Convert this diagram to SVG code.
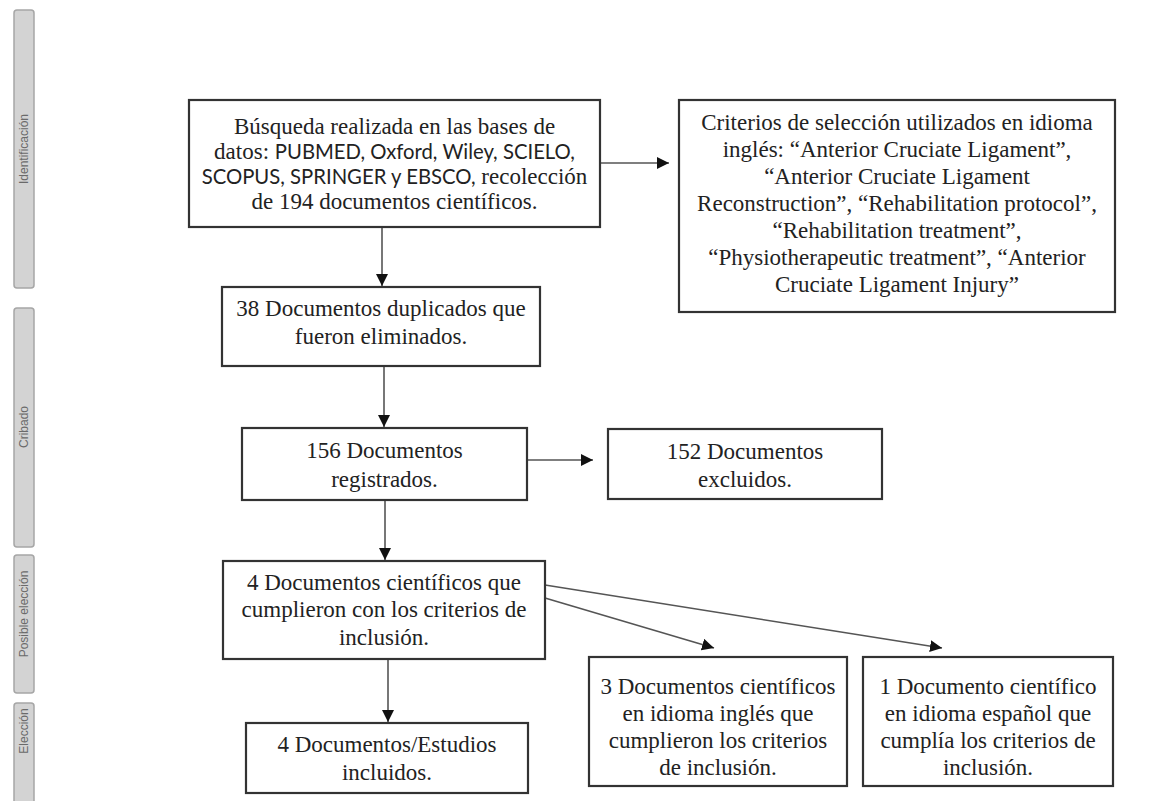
<svg xmlns="http://www.w3.org/2000/svg" width="1153" height="801" viewBox="0 0 1153 801">
<style>
.bar{fill:#d3d3d3;stroke:#a6a6a6;stroke-width:1.5}
.bt{font-family:"Liberation Sans",Arial,sans-serif;font-size:12px;fill:#6a6a6a;text-anchor:middle}
.box{fill:#fff;stroke:#333;stroke-width:2.2}
.t{font-family:"Liberation Serif","Times New Roman",serif;font-size:23px;fill:#222;text-anchor:middle}
.s{font-family:Lato,"Liberation Sans",sans-serif;font-size:20.3px}
.c{fill:none;stroke:#555;stroke-width:1.6}
</style>
<defs>
<marker id="ah" markerUnits="userSpaceOnUse" markerWidth="14" markerHeight="12" refX="12" refY="6" orient="auto">
<path d="M0,0 L12,6 L0,12 Z" fill="#111"/>
</marker>
</defs>
<rect width="1153" height="801" fill="#fff"/>
<g id="bars">
<rect class="bar" x="14" y="10" width="20" height="278" rx="3"/>
<text class="bt" transform="translate(28,149) rotate(-90)">Identificación</text>
<rect class="bar" x="14" y="308" width="20" height="239" rx="3"/>
<text class="bt" transform="translate(28,427) rotate(-90)">Cribado</text>
<rect class="bar" x="14" y="555" width="20" height="138" rx="3"/>
<text class="bt" transform="translate(28,614) rotate(-90)">Posible elección</text>
<rect class="bar" x="14" y="703" width="20" height="110" rx="3"/>
<text class="bt" transform="translate(28,731) rotate(-90)">Elección</text>
</g>
<g id="connectors">
<line class="c" x1="382" y1="227" x2="382" y2="286" marker-end="url(#ah)"/>
<line class="c" x1="601" y1="163" x2="669" y2="163" marker-end="url(#ah)"/>
<line class="c" x1="384" y1="366" x2="384" y2="427" marker-end="url(#ah)"/>
<line class="c" x1="527" y1="460" x2="593" y2="460" marker-end="url(#ah)"/>
<line class="c" x1="385" y1="500" x2="385" y2="560" marker-end="url(#ah)"/>
<line class="c" x1="545" y1="598" x2="714" y2="648" marker-end="url(#ah)"/>
<line class="c" x1="545" y1="585" x2="942" y2="648" marker-end="url(#ah)"/>
<line class="c" x1="388" y1="659" x2="388" y2="722" marker-end="url(#ah)"/>
</g>
<g id="n1">
<rect class="box" x="189" y="100" width="411" height="127"/>
<text class="t" x="394.5" y="134">Búsqueda realizada en las bases de</text>
<text class="t" x="394.5" y="159">datos: <tspan class="s">PUBMED, Oxford, Wiley, SCIELO,</tspan></text>
<text class="t" x="394.5" y="184"><tspan class="s">SCOPUS, SPRINGER y EBSCO,</tspan> recolección</text>
<text class="t" x="394.5" y="209">de 194 documentos científicos.</text>
</g>
<g id="n2">
<rect class="box" x="679" y="100" width="436" height="212"/>
<text class="t" x="897" y="130">Criterios de selección utilizados en idioma</text>
<text class="t" x="897" y="157">inglés: “Anterior Cruciate Ligament”,</text>
<text class="t" x="897" y="184">“Anterior Cruciate Ligament</text>
<text class="t" x="897" y="211">Reconstruction”, “Rehabilitation protocol”,</text>
<text class="t" x="897" y="238">“Rehabilitation treatment”,</text>
<text class="t" x="897" y="265">“Physiotherapeutic treatment”, “Anterior</text>
<text class="t" x="897" y="292">Cruciate Ligament Injury”</text>
</g>
<g id="n3">
<rect class="box" x="222" y="287" width="318" height="79"/>
<text class="t" x="381" y="316">38 Documentos duplicados que</text>
<text class="t" x="381" y="344">fueron eliminados.</text>
</g>
<g id="n4">
<rect class="box" x="242" y="428" width="285" height="72"/>
<text class="t" x="384.5" y="458">156 Documentos</text>
<text class="t" x="384.5" y="487">registrados.</text>
</g>
<g id="n5">
<rect class="box" x="608" y="429" width="274" height="70"/>
<text class="t" x="745" y="459">152 Documentos</text>
<text class="t" x="745" y="487">excluidos.</text>
</g>
<g id="n6">
<rect class="box" x="223" y="561" width="322" height="98"/>
<text class="t" x="384" y="590">4 Documentos científicos que</text>
<text class="t" x="384" y="617">cumplieron con los criterios de</text>
<text class="t" x="384" y="645">inclusión.</text>
</g>
<g id="n7">
<rect class="box" x="589" y="657" width="258" height="129"/>
<text class="t" x="718" y="694">3 Documentos científicos</text>
<text class="t" x="718" y="721">en idioma inglés que</text>
<text class="t" x="718" y="748">cumplieron los criterios</text>
<text class="t" x="718" y="775">de inclusión.</text>
</g>
<g id="n8">
<rect class="box" x="863" y="657" width="250" height="129"/>
<text class="t" x="988" y="694">1 Documento científico</text>
<text class="t" x="988" y="721">en idioma español que</text>
<text class="t" x="988" y="748">cumplía los criterios de</text>
<text class="t" x="988" y="775">inclusión.</text>
</g>
<g id="n9">
<rect class="box" x="246" y="723" width="282" height="70"/>
<text class="t" x="387" y="752">4 Documentos/Estudios</text>
<text class="t" x="387" y="780">incluidos.</text>
</g>
</svg>
